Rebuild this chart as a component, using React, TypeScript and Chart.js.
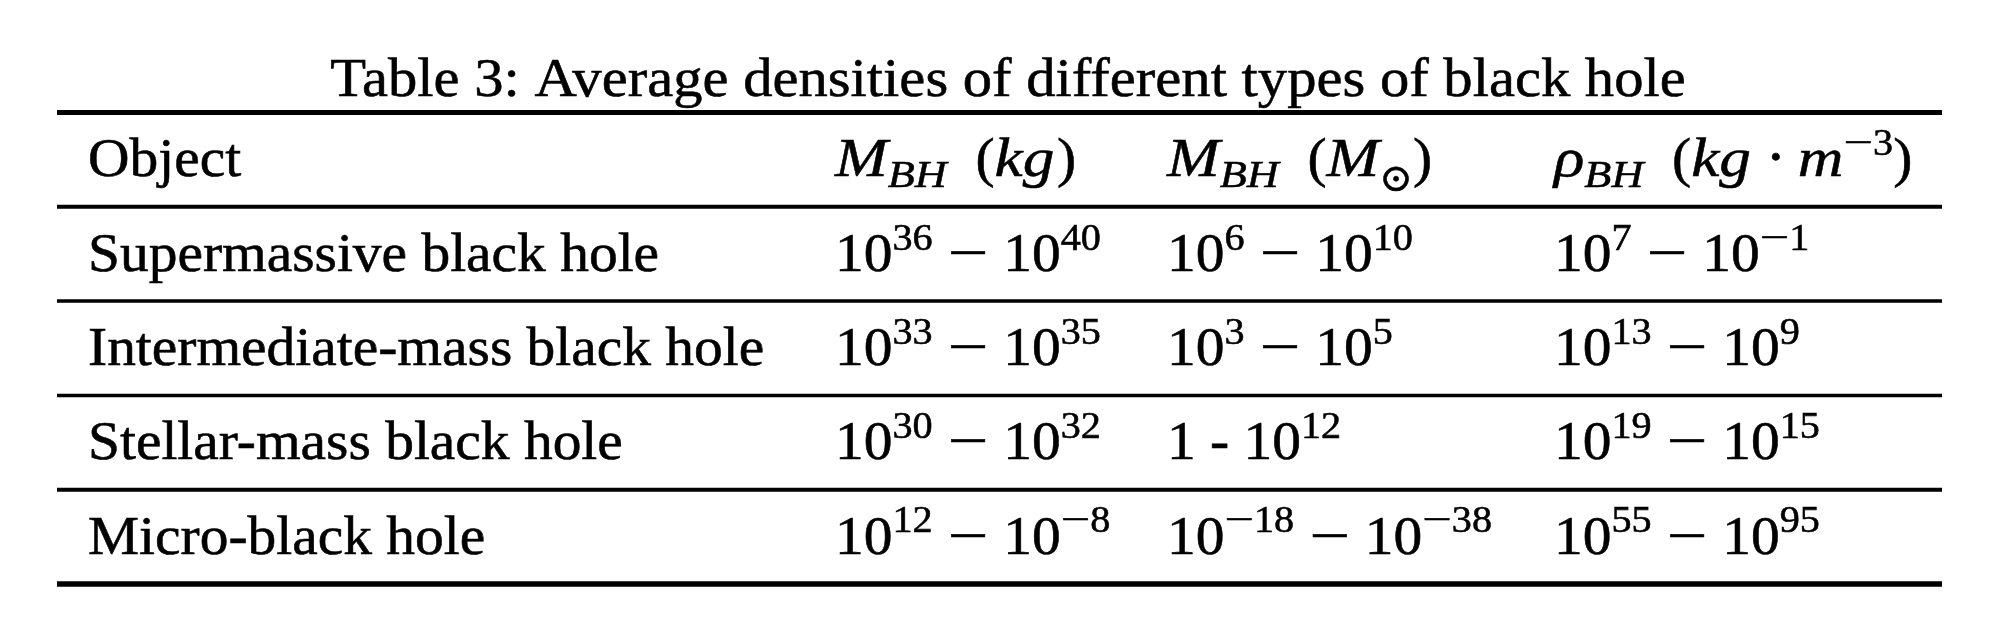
import React, { useEffect, useRef } from 'react';
import { Chart, registerables } from 'chart.js';

Chart.register(...registerables);

// ---------- data ----------
const TITLE = 'Table 3: Average densities of different types of black hole';
const HEADERS = ['Object', '$M_{BH}\\ (kg)$', '$M_{BH}\\ (M_{\\odot})$', '$\\rho_{BH}\\ (kg\\cdot m^{-3})$'];
const OBJECTS = ['Supermassive black hole', 'Intermediate-mass black hole', 'Stellar-mass black hole', 'Micro-black hole'];
const MASS_KG = ['$10^{36} - 10^{40}$', '$10^{33} - 10^{35}$', '$10^{30} - 10^{32}$', '$10^{12} - 10^{-8}$'];
const MASS_SOLAR = ['$10^{6} - 10^{10}$', '$10^{3} - 10^{5}$', '1 - $10^{12}$', '$10^{-18} - 10^{-38}$'];
const DENSITY = ['$10^{7} - 10^{-1}$', '$10^{13} - 10^{9}$', '$10^{19} - 10^{15}$', '$10^{55} - 10^{95}$'];

// ---------- layout / style ----------
const W = 1984;
const H = 604;
const PAGE_OFFSET = 8;
const COL_X = [88, 835, 1167, 1554];
const TABLE_LEFT = 57;
const TABLE_RIGHT = 1942;
const TITLE_X = 1008;
const TITLE_ROW = -0.35;
const TITLE_SX = 1.02;
const RULE_WIDTHS = [5, 4, 3.5, 3.5, 4, 5.5];
const Y_MIN = -1.10817;
const Y_MAX = 5.29692;
const F = 55.5;
const SX = 1.035;
const SX_ITALIC = 1.14;
const MINUS_SX = 1.3;
const MINUS_SX_SCRIPT = 1.35;
const BASE_OFFSET = 0.3;
const SCRIPT_SCALE = 0.7;
const SUP_RAISE = 0.38;
const SUB_DROP = 0.19;
const BIN_PAD = 0.27;
const CTRL_SPACE = 0.5;
const ITALIC_CORR = 0.05;
const TEXT_COLOR = '#000';
const TEXT_STROKE = 0.6;
const FONT_FAMILY = '"Liberation Serif", "DejaVu Serif", serif';

type Script = 'sup' | 'sub' | undefined;
type Atom = {
  text?: string;
  italic?: boolean;
  script?: Script;
  bin?: boolean;
  pad?: number;
  space?: number;
  dy?: number;
  minus?: boolean;
};

const SYMBOLS: Record<string, { text: string; italic: boolean; bin?: boolean; pad?: number; dy?: number }> = {
  cdot: { text: '\u22C5', italic: false, bin: true, pad: 0.22 },
  odot: { text: '\u2299', italic: false, dy: 0.08 },
  rho: { text: '\u03C1', italic: true },
};

function parseMath(s: string, script: Script, out: Atom[]) {
  let j = 0;
  const start = out.length;
  while (j < s.length) {
    const c = s[j];
    if (c === ' ') { j++; continue; }
    if (c === '\\') {
      if (s[j + 1] === ' ') { out.push({ space: CTRL_SPACE, script }); j += 2; continue; }
      let k = j + 1;
      while (k < s.length && /[a-zA-Z]/.test(s[k])) k++;
      const sym = SYMBOLS[s.slice(j + 1, k)];
      if (sym) out.push({ text: sym.text, italic: sym.italic, dy: sym.dy, pad: sym.pad, script, bin: !!sym.bin && !script });
      j = k;
      continue;
    }
    if (c === '^' || c === '_') {
      j++;
      let g: string;
      if (s[j] === '{') {
        let d = 1;
        let k = j + 1;
        while (k < s.length && d > 0) {
          if (s[k] === '{') d++;
          else if (s[k] === '}') d--;
          k++;
        }
        g = s.slice(j + 1, k - 1);
        j = k;
      } else {
        g = s[j];
        j++;
      }
      parseMath(g, c === '^' ? 'sup' : 'sub', out);
      continue;
    }
    if (c === '-') {
      const prev = out.length > start ? out[out.length - 1] : null;
      const unary = !prev || !!prev.bin || !!script;
      out.push({ text: '\u2212', italic: false, script, bin: !unary, minus: true });
      j++;
      continue;
    }
    out.push({ text: c, italic: /[a-zA-Z]/.test(c), script });
    j++;
  }
}

function parseTex(src: string): Atom[] {
  const out: Atom[] = [];
  src.split('$').forEach((part, i) => {
    if (!part) return;
    if (i % 2 === 0) out.push({ text: part, italic: false });
    else parseMath(part, undefined, out);
  });
  return out;
}

function fontStr(italic: boolean | undefined, size: number) {
  return `${italic ? 'italic ' : ''}${size}px ${FONT_FAMILY}`;
}

type Placed = Atom & { x: number; size: number; sx: number };

function atomSx(a: Atom, base: number) {
  if (a.minus) return a.script ? MINUS_SX_SCRIPT : MINUS_SX;
  if (a.italic) return SX_ITALIC;
  return base;
}

function layoutTex(ctx: CanvasRenderingContext2D, tex: string, baseSx: number) {
  const atoms = parseTex(tex);
  const placed: Placed[] = [];
  let x = 0;
  atoms.forEach((a, idx) => {
    const size = a.script ? F * SCRIPT_SCALE : F;
    if (a.space != null) { x += a.space * F * baseSx; return; }
    const prev = atoms[idx - 1];
    if (prev && prev.italic && prev.text && !a.italic && !a.script && !prev.script) x += ITALIC_CORR * F;
    const pad = a.bin ? (a.pad != null ? a.pad : BIN_PAD) * F : 0;
    x += pad;
    ctx.font = fontStr(a.italic, size);
    const sx = atomSx(a, baseSx);
    const w = ctx.measureText(a.text || '').width * sx;
    placed.push({ ...a, x, size, sx });
    x += w + pad;
  });
  return { placed, width: x };
}

function drawTex(ctx: CanvasRenderingContext2D, tex: string, x0: number, baseline: number, align: string) {
  const baseSx = align === 'center' ? SX * TITLE_SX : SX;
  const { placed, width } = layoutTex(ctx, tex, baseSx);
  const ox = align === 'center' ? x0 - width / 2 : x0;
  ctx.save();
  ctx.fillStyle = TEXT_COLOR;
  ctx.strokeStyle = TEXT_COLOR;
  ctx.textBaseline = 'alphabetic';
  ctx.textAlign = 'left';
  placed.forEach((p) => {
    ctx.font = fontStr(p.italic, p.size);
    const dy = p.script === 'sup' ? -SUP_RAISE * F : p.script === 'sub' ? SUB_DROP * F : 0;
    ctx.save();
    ctx.translate(ox + p.x, baseline + dy + (p.dy || 0) * F);
    ctx.scale(p.sx, 1);
    ctx.lineWidth = TEXT_STROKE / p.sx;
    ctx.fillText(p.text || '', 0, 0);
    ctx.strokeText(p.text || '', 0, 0);
    ctx.restore();
  });
  ctx.restore();
}

const texPlugin = {
  id: 'texCells',
  afterDatasetsDraw(chart: any) {
    const ctx = chart.ctx as CanvasRenderingContext2D;
    chart.data.datasets.forEach((ds: any, di: number) => {
      if (!ds.cellTexts) return;
      const meta = chart.getDatasetMeta(di);
      meta.data.forEach((el: any, i: number) => {
        drawTex(ctx, ds.cellTexts[i], el.x, el.y + BASE_OFFSET * F, ds.cellAlign[i]);
      });
    });
  },
};

function buildConfig(): any {
  const COLUMNS = [OBJECTS, MASS_KG, MASS_SOLAR, DENSITY];
  const points: { x: number; y: number }[] = [];
  const texts: string[] = [];
  const aligns: string[] = [];
  points.push({ x: TITLE_X, y: TITLE_ROW });
  texts.push(TITLE);
  aligns.push('center');
  HEADERS.forEach((h, c) => {
    points.push({ x: COL_X[c], y: 0.5 });
    texts.push(h);
    aligns.push('left');
  });
  COLUMNS.forEach((col, c) =>
    col.forEach((t, r) => {
      points.push({ x: COL_X[c], y: r + 1.5 });
      texts.push(t);
      aligns.push('left');
    })
  );

  const ruleDatasets = RULE_WIDTHS.map((w, k) => ({
    type: 'line',
    label: `rule${k}`,
    data: [{ x: TABLE_LEFT, y: k }, { x: TABLE_RIGHT, y: k }],
    borderColor: '#000',
    borderWidth: w,
    borderCapStyle: 'butt',
    pointRadius: 0,
    showLine: true,
    fill: false,
    clip: false,
  }));

  return {
    type: 'scatter',
    data: {
      datasets: [
        ...ruleDatasets,
        {
          type: 'scatter',
          label: 'cells',
          data: points,
          cellTexts: texts,
          cellAlign: aligns,
          pointRadius: 0,
          pointHoverRadius: 0,
          clip: false,
        },
      ],
    },
    options: {
      animation: false,
      responsive: false,
      events: [],
      layout: { padding: 0 },
      plugins: { legend: { display: false }, tooltip: { enabled: false }, title: { display: false } },
      scales: {
        x: { type: 'linear', min: PAGE_OFFSET, max: PAGE_OFFSET + W, display: false },
        y: { type: 'linear', min: Y_MIN, max: Y_MAX, reverse: true, display: false },
      },
    },
    plugins: [texPlugin],
  };
}

export default function App() {
  const ref = useRef<HTMLCanvasElement>(null);
  useEffect(() => {
    if (!ref.current) return;
    const chart = new Chart(ref.current, buildConfig());
    return () => chart.destroy();
  }, []);
  return (
    <div style={{ width: W, height: H }}>
      <canvas ref={ref} width={W} height={H} style={{ display: 'block', width: W, height: H }} />
    </div>
  );
}
